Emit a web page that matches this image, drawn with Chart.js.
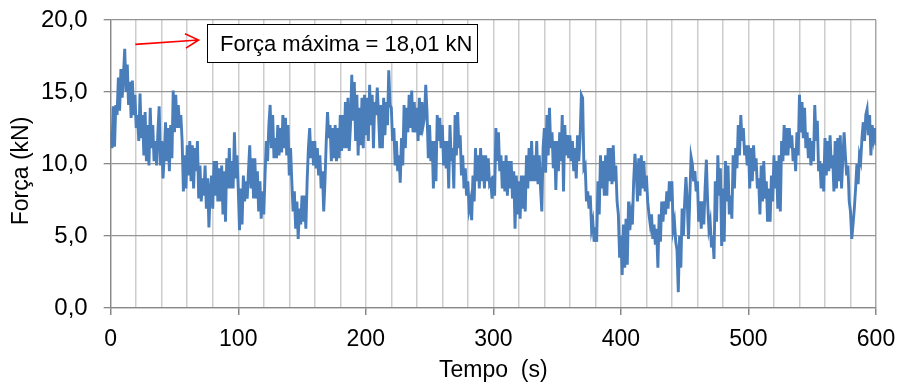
<!DOCTYPE html>
<html>
<head>
<meta charset="utf-8">
<script src="https://cdn.jsdelivr.net/npm/chart.js@4.4.1/dist/chart.umd.min.js"></script>
<style>
  html, body { margin: 0; padding: 0; background: #fff; }
  #wrap { width: 900px; height: 392px; position: relative; }
</style>
</head>
<body>
<div id="wrap"><canvas id="grafico"></canvas></div>
<script>
const passo = 1;
const forca = [
  12.2, 11.1, 14.0, 11.2, 14.1, 13.4, 16.0, 13.7, 16.6, 14.6,
  16.2, 18.0, 15.0, 16.9, 14.1, 15.7, 13.2, 15.8, 13.4, 14.8,
  12.5, 13.4, 11.6, 14.9, 11.8, 13.4, 10.6, 13.6, 10.2, 12.7,
  9.9, 13.9, 11.1, 12.7, 10.2, 11.6, 9.9, 12.2, 14.0, 9.9,
  11.6, 9.0, 10.6, 12.9, 10.2, 12.5, 9.5, 12.7, 10.4, 15.1,
  12.2, 14.8, 12.5, 14.1, 12.5, 13.4, 11.6, 8.1, 10.6, 8.3,
  11.3, 9.2, 11.6, 8.8, 11.3, 8.3, 11.1, 9.5, 11.6, 7.6,
  9.9, 7.4, 9.0, 7.8, 9.9, 6.9, 9.0, 5.6, 8.1, 9.2,
  6.9, 10.2, 7.8, 10.2, 7.4, 9.7, 7.4, 9.9, 6.5, 9.5,
  6.0, 10.4, 8.3, 11.1, 8.3, 10.2, 8.3, 12.2, 9.0, 10.6,
  8.3, 5.4, 8.3, 5.8, 9.2, 7.4, 8.8, 7.6, 9.5, 11.3,
  8.3, 10.4, 7.6, 10.4, 7.6, 9.5, 6.7, 8.8, 6.2, 8.1,
  6.5, 9.2, 11.6, 10.2, 12.7, 14.1, 11.1, 13.4, 10.4, 11.8,
  10.4, 12.7, 10.6, 12.5, 10.8, 13.4, 11.1, 13.2, 10.6, 12.7,
  9.2, 11.1, 8.8, 6.7, 8.1, 5.5, 7.4, 4.8, 6.9, 5.8,
  7.8, 6.0, 7.8, 5.5, 8.8, 11.1, 12.5, 10.4, 11.6, 9.9,
  11.6, 9.7, 11.1, 9.2, 10.6, 8.3, 9.5, 6.7, 8.8, 11.6,
  13.6, 11.8, 12.7, 10.2, 12.5, 10.4, 12.7, 10.2, 12.5, 10.4,
  13.4, 10.9, 13.4, 11.1, 14.3, 11.1, 14.6, 10.9, 12.7, 16.2,
  13.0, 15.7, 11.6, 14.8, 10.6, 13.9, 11.3, 14.6, 11.1, 14.8,
  12.0, 14.6, 11.6, 15.5, 12.7, 14.8, 11.1, 14.3, 13.4, 15.3,
  13.4, 11.1, 14.1, 11.1, 14.6, 12.0, 14.3, 12.7, 16.5, 14.1,
  13.9, 11.6, 12.5, 9.9, 11.6, 9.5, 10.6, 8.7, 11.8, 9.9,
  14.1, 11.1, 13.9, 12.2, 14.8, 12.5, 15.1, 12.2, 14.3, 12.2,
  13.9, 11.6, 14.6, 12.0, 14.3, 12.7, 13.2, 15.5, 13.6, 10.4,
  12.7, 10.2, 11.6, 8.3, 11.6, 8.8, 13.4, 11.6, 13.2, 11.1,
  12.7, 9.9, 11.6, 9.7, 11.6, 8.3, 12.7, 10.2, 11.1, 8.3,
  13.4, 10.6, 13.6, 11.1, 12.0, 9.2, 10.6, 8.3, 9.7, 7.8,
  8.8, 6.9, 7.4, 6.1, 9.2, 7.4, 11.1, 8.8, 10.6, 8.3,
  11.1, 8.8, 10.6, 8.3, 10.6, 8.8, 10.4, 8.6, 8.8, 7.6,
  9.2, 7.8, 12.5, 10.2, 12.2, 9.5, 10.6, 8.3, 10.2, 8.1,
  10.6, 7.8, 10.2, 8.3, 10.2, 7.6, 9.5, 5.5, 9.2, 6.5,
  8.8, 6.2, 9.2, 6.9, 9.2, 6.7, 10.6, 8.3, 11.1, 8.8,
  11.6, 8.8, 10.6, 8.8, 11.6, 8.6, 10.6, 8.3, 6.7, 11.1,
  12.5, 9.4, 13.4, 10.6, 13.9, 11.1, 12.2, 9.7, 11.6, 8.2,
  11.6, 9.5, 12.2, 10.2, 13.4, 8.1, 12.7, 10.6, 12.0, 10.4,
  12.0, 10.2, 11.6, 9.5, 11.1, 9.0, 12.0, 10.2, 11.8, 14.8,
  14.6, 9.7, 9.9, 7.4, 8.1, 6.9, 7.8, 5.5, 6.0, 4.6,
  5.6, 4.6, 8.8, 6.5, 10.6, 8.3, 10.2, 7.8, 10.6, 7.8,
  11.1, 8.8, 11.1, 8.6, 11.3, 8.8, 9.9, 7.4, 6.5, 3.5,
  5.0, 2.3, 5.8, 2.8, 6.2, 3.0, 7.4, 5.4, 6.5, 5.8,
  8.8, 10.7, 9.5, 7.4, 10.4, 7.8, 10.6, 8.3, 10.2, 8.1,
  9.2, 7.4, 6.5, 5.8, 6.5, 4.8, 5.8, 4.4, 5.5, 2.8,
  6.5, 4.6, 7.4, 6.0, 7.4, 6.5, 8.1, 6.9, 8.8, 7.4,
  8.8, 5.5, 6.0, 4.6, 4.0, 1.1, 5.0, 2.8, 6.9, 5.0,
  7.4, 9.1, 7.4, 4.8, 7.6, 10.5, 10.0, 8.8, 9.5, 8.1,
  8.8, 6.0, 7.4, 5.5, 7.4, 5.8, 8.3, 10.3, 7.4, 5.5,
  6.0, 4.2, 5.0, 3.4, 8.8, 6.0, 10.6, 7.8, 9.7, 4.3,
  8.3, 4.6, 10.2, 7.4, 9.9, 6.5, 7.8, 6.2, 10.6, 8.3,
  11.1, 9.7, 12.7, 10.6, 13.4, 11.6, 12.5, 10.6, 11.3, 9.9,
  11.3, 8.3, 11.1, 8.8, 11.3, 9.5, 10.4, 8.3, 9.0, 6.5,
  9.9, 7.4, 10.2, 7.6, 8.8, 6.0, 8.3, 6.0, 9.2, 7.4,
  10.6, 8.3, 10.2, 6.9, 10.6, 6.7, 11.6, 10.2, 12.7, 10.6,
  12.5, 10.6, 12.5, 11.1, 12.0, 10.2, 11.1, 9.5, 12.2, 10.6,
  14.8, 12.2, 14.3, 11.8, 13.9, 11.1, 12.2, 10.4, 11.8, 9.9,
  11.6, 10.2, 14.1, 11.6, 13.0, 9.5, 10.2, 8.3, 10.0, 8.1,
  11.8, 9.2, 11.6, 9.5, 12.0, 9.7, 10.6, 8.1, 11.6, 8.3,
  11.8, 8.8, 12.0, 8.3, 10.4, 12.2, 10.6, 9.2, 9.9, 7.4,
  6.7, 4.8, 5.8, 6.9, 8.3, 10.0, 8.6, 10.6, 10.2, 11.8,
  12.9, 11.6, 13.4, 13.8, 12.0, 13.4, 10.6, 12.7, 11.8, 12.5,
  11.3
];
const tempo = forca.map((_, i) => i * passo);

const tempoMin = 0, tempoMax = 600, tempoPasso = 20, tempoRotulo = 100;
const forcaMin = 0, forcaMax = 20, forcaPasso = 5;

const tituloX = 'Tempo  (s)';
const tituloY = 'Força (kN)';
const textoMax = 'Força máxima = 18,01 kN';

const fonte = 'Liberation Sans, Arial, sans-serif';

// título do eixo y (desenhado à mão para acertar a posição)
const tituloEixoY = {
  id: 'tituloEixoY',
  afterDraw(chart) {
    const ctx = chart.ctx;
    ctx.save();
    ctx.translate(22, 171);
    ctx.rotate(-Math.PI / 2);
    ctx.fillStyle = '#000';
    ctx.font = '23px ' + fonte;
    ctx.textAlign = 'center';
    ctx.textBaseline = 'middle';
    ctx.fillText(tituloY, 0, 0);
    ctx.restore();
  }
};

// caixa de texto + seta vermelha
const anotacao = {
  id: 'anotacao',
  afterDatasetsDraw(chart) {
    const { ctx, scales: { x, y } } = chart;
    ctx.save();
    const bx = Math.round(x.getPixelForValue(75.7)), by = Math.round(y.getPixelForValue(19.7));
    const bw = 270, bh = 38;
    ctx.fillStyle = '#fff';
    ctx.fillRect(bx, by, bw, bh);
    ctx.strokeStyle = '#000';
    ctx.lineWidth = 1;
    ctx.strokeRect(bx + 0.5, by + 0.5, bw, bh);
    ctx.fillStyle = '#000';
    ctx.font = '22px ' + fonte;
    ctx.textBaseline = 'alphabetic';
    ctx.fillText(textoMax, bx + 13, by + 26.5);

    // seta
    const x0 = x.getPixelForValue(19.3), y0 = y.getPixelForValue(18.31);
    const x1 = x.getPixelForValue(68.9), y1 = y.getPixelForValue(18.61);
    ctx.strokeStyle = '#ff0000';
    ctx.lineWidth = 1.6;
    ctx.beginPath();
    ctx.moveTo(x0, y0);
    ctx.lineTo(x1, y1);
    const ang = Math.atan2(y1 - y0, x1 - x0);
    const l = 15;
    ctx.moveTo(x1 - l * Math.cos(ang - 0.5), y1 - l * Math.sin(ang - 0.5));
    ctx.lineTo(x1, y1);
    ctx.lineTo(x1 - l * Math.cos(ang + 0.5), y1 - l * Math.sin(ang + 0.5));
    ctx.stroke();
    ctx.restore();
  }
};

new Chart(document.getElementById('grafico'), {
  type: 'line',
  data: {
    labels: tempo,
    datasets: [{
      data: forca,
      borderColor: '#4a7ebb',
      borderWidth: 2.9,
      pointRadius: 0,
      tension: 0,
      fill: false
    }]
  },
  options: {
    responsive: true,
    maintainAspectRatio: false,
    animation: false,
    layout: { padding: { left: 0, right: 24, top: 20, bottom: 0 } },
    plugins: { legend: { display: false }, tooltip: { enabled: false } },
    scales: {
      x: {
        type: 'linear',
        min: tempoMin,
        max: tempoMax,
        afterFit: (s) => { s.height = 84; s.paddingLeft = 0; s.paddingRight = 0; },
        ticks: {
          stepSize: tempoPasso,
          autoSkip: false,
          maxRotation: 0,
          padding: 11,
          color: '#000',
          font: { family: fonte, size: 23 },
          callback: (v) => (v % tempoRotulo === 0 ? String(v) : '')
        },
        grid: {
          color: (c) => (c.tick && c.tick.value === tempoMax ? '#a8a8a8' : '#cdcdcd'),
          tickColor: (c) => (c.tick && c.tick.value % tempoRotulo === 0 ? '#888' : 'rgba(0,0,0,0)'),
          tickLength: 7,
          lineWidth: 1.5
        },
        border: { color: '#888', width: 1.3 },
        title: {
          display: true,
          text: tituloX,
          color: '#000',
          font: { family: fonte, size: 23 },
          padding: { top: 0, bottom: 8 }
        }
      },
      y: {
        min: forcaMin,
        max: forcaMax,
        afterFit: (s) => { s.width = 110.7; s.paddingTop = 0; s.paddingBottom = 0; },
        ticks: {
          stepSize: forcaPasso,
          padding: 16,
          color: '#000',
          font: { family: fonte, size: 24 },
          callback: (v) => v.toFixed(1).replace('.', ',')
        },
        grid: {
          color: '#949494',
          tickColor: '#888',
          tickLength: 7,
          lineWidth: 1.3
        },
        border: { color: '#888', width: 1.3 }
      }
    }
  },
  plugins: [anotacao, tituloEixoY]
});
</script>
</body>
</html>
